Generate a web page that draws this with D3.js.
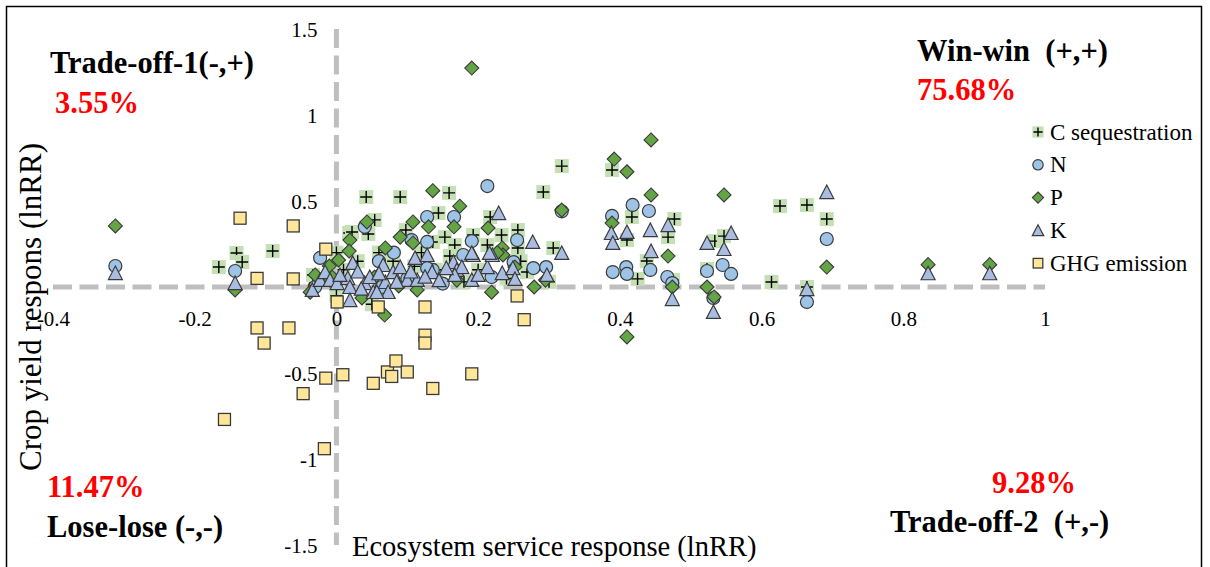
<!DOCTYPE html>
<html>
<head>
<meta charset="utf-8">
<script src="https://cdn.jsdelivr.net/npm/d3@7"></script>
<style>
  html, body { margin: 0; padding: 0; background: #ffffff; }
  svg { display: block; }
  svg text { font-family: "Liberation Serif", "Times New Roman", serif; }
</style>
</head>
<body>
<svg id="chart" width="1210" height="567"></svg>
<script>
// Ecosystem service response (x, lnRR) vs crop yield response (y, lnRR)
const seriesNames = ["C sequestration", "N", "P", "K", "GHG emission"];

const xTicks = [-0.4, -0.2, 0, 0.2, 0.4, 0.6, 0.8, 1];
const xTickLabels = ["-0.4", "-0.2", "0", "0.2", "0.4", "0.6", "0.8", "1"];
const yTicks = [1.5, 1, 0.5, 0, -0.5, -1, -1.5];
const yTickLabels = ["1.5", "1", "0.5", "0", "-0.5", "-1", "-1.5"];

const cSequestration = [
  [-0.166, 0.116], [-0.141, 0.198], [-0.133, 0.145], [-0.09, 0.209],
  [0.042, 0.523], [0.09, 0.523], [0.159, 0.547], [0.292, 0.552], [0.318, 0.703],
  [0.054, 0.39], [0.045, 0.308], [0.018, 0.314], [0.144, 0.43], [0.217, 0.407],
  [0.022, 0.32], [0.098, 0.331], [0.136, 0.262], [0.153, 0.29], [0.167, 0.244],
  [0.193, 0.302], [0.213, 0.244], [0.233, 0.302], [0.256, 0.331], [0.256, 0.227],
  [0.306, 0.227], [-0.033, 0.07], [0.389, 0.68], [0.417, 0.407], [0.477, 0.395],
  [0.41, 0.273], [0.468, 0.29], [0.438, 0.151], [0.425, 0.047], [0.475, 0.04],
  [0.534, 0.267], [0.547, 0.296], [0.523, 0.105], [0.626, 0.471], [0.664, 0.477],
  [0.692, 0.395], [0.614, 0.029], [0.269, 0.087], [0.0, 0.2], [0.01, 0.1],
  [0.03, 0.15], [0.06, 0.2], [0.08, 0.15], [0.11, 0.12], [0.14, 0.1], [0.16, 0.18],
  [0.2, 0.1], [0.24, 0.05], [0.18, 0.03], [0.3, 0.03], [0.0, -0.05], [0.05, -0.1],
  [0.12, 0.2], [0.26, 0.15], [0.664, 0.0]
];

const nutrientN = [
  [-0.312, 0.122], [-0.143, 0.093], [0.213, 0.587], [0.04, 0.35], [0.128, 0.407],
  [0.166, 0.407], [0.128, 0.262], [0.106, 0.273], [0.081, 0.2], [0.136, 0.099],
  [0.191, 0.267], [0.179, 0.186], [0.255, 0.273], [0.25, 0.145], [0.278, 0.11],
  [0.296, 0.116], [0.219, 0.058], [-0.03, 0.0], [0.318, 0.44], [0.389, 0.413],
  [0.418, 0.477], [0.39, 0.087], [0.409, 0.116], [0.41, 0.076], [0.441, 0.442],
  [0.443, 0.099], [0.467, 0.058], [0.474, 0.023], [0.523, 0.093], [0.545, 0.128],
  [0.557, 0.076], [0.532, -0.064], [0.692, 0.279], [0.664, -0.087],
  [-0.023, 0.169], [0.064, 0.0], [0.128, 0.11], [0.06, 0.15], [0.1, 0.05], [0.15, 0.02]
];

const nutrientP = [
  [-0.312, 0.355], [0.191, 1.273], [0.136, 0.56], [0.444, 0.855], [0.392, 0.744],
  [0.41, 0.67], [0.444, 0.535], [0.389, 0.372], [0.468, 0.18], [0.547, 0.535],
  [0.692, 0.116], [0.41, -0.29], [0.474, 0.0], [0.523, 0.0], [0.533, -0.058],
  [0.835, 0.13], [0.922, 0.13], [0.318, 0.447], [0.174, 0.47], [0.166, 0.35],
  [0.214, 0.343], [0.234, 0.227], [0.235, 0.186], [0.252, 0.116], [0.279, 0.0],
  [0.219, -0.03], [0.295, 0.04], [0.043, 0.378], [0.108, 0.378], [0.13, 0.35],
  [0.019, 0.273], [0.09, 0.29], [0.108, 0.256], [0.069, 0.227], [0.018, 0.209],
  [0.003, 0.157], [-0.01, 0.122], [0.036, -0.064], [0.068, -0.163], [-0.03, 0.07],
  [-0.009, 0.04], [-0.143, -0.017], [0.088, 0.006], [0.114, -0.017], [-0.037, -0.03],
  [-0.006, 0.058], [0.054, 0.058], [0.17, 0.04], [0.227, 0.2]
];

const nutrientK = [
  [-0.034, -0.017], [-0.023, 0.041], [-0.016, 0.087], [-0.009, 0.041], [0.001, 0.023],
  [0.016, 0.052], [0.019, 0.0], [0.023, 0.14], [0.04, 0.023], [0.047, 0.058],
  [0.052, -0.029], [0.066, 0.128], [0.069, 0.029], [0.073, -0.029], [0.08, 0.087],
  [0.09, 0.116], [0.1, 0.041], [0.111, 0.169], [0.114, 0.041], [0.128, 0.186],
  [0.135, 0.087], [0.165, 0.145], [0.17, 0.099], [0.177, 0.116], [0.191, 0.041],
  [0.193, 0.186], [0.213, 0.116], [0.22, 0.186], [0.234, 0.081], [0.249, 0.11],
  [0.277, 0.262], [0.297, 0.07], [0.318, 0.198], [0.229, 0.43], [0.019, -0.076],
  [0.057, -0.029], [0.167, 0.07], [0.191, 0.198], [0.216, 0.198], [0.252, 0.047],
  [-0.312, 0.081], [-0.143, 0.023], [0.388, 0.314], [0.39, 0.256], [0.41, 0.32],
  [0.443, 0.331], [0.444, 0.209], [0.468, 0.36], [0.474, -0.07], [0.523, 0.256],
  [0.547, 0.221], [0.557, 0.314], [0.532, -0.145], [0.664, -0.012], [0.692, 0.552],
  [0.835, 0.08], [0.922, 0.08],
  [0.005, 0.07], [0.03, 0.09], [0.06, 0.08], [0.085, 0.03], [0.105, 0.09],
  [0.145, 0.04], [0.155, 0.11], [0.2, 0.07], [0.125, 0.06], [0.035, -0.01]
];

const ghgEmission = [
  [-0.136, 0.4], [-0.061, 0.355], [-0.112, 0.05], [-0.061, 0.047], [-0.015, 0.22],
  [0.001, -0.087], [0.059, -0.116], [0.125, -0.116], [0.125, -0.28], [0.125, -0.326],
  [-0.112, -0.238], [-0.102, -0.326], [-0.067, -0.238], [-0.047, -0.62], [-0.158, -0.77],
  [-0.017, -0.94], [-0.015, -0.53], [0.009, -0.51], [0.052, -0.56], [0.072, -0.494],
  [0.084, -0.43], [0.078, -0.52], [0.1, -0.494], [0.136, -0.59], [0.191, -0.505],
  [0.255, -0.052], [0.265, -0.19]
];

const quadrantLabels = [
  { text: "Trade-off-1(-,+)", x: 50, y: 73, color: "#000000" },
  { text: "3.55%", x: 55, y: 113, color: "#ff0000" },
  { text: "Win-win  (+,+)", x: 917, y: 61, color: "#000000" },
  { text: "75.68%", x: 917, y: 100, color: "#ff0000" },
  { text: "11.47%", x: 47, y: 497, color: "#ff0000" },
  { text: "Lose-lose (-,-)", x: 47, y: 537, color: "#000000" },
  { text: "9.28%", x: 992, y: 493, color: "#ff0000" },
  { text: "Trade-off-2  (+,-)", x: 890, y: 532, color: "#000000" }
];

const serif = "'Liberation Serif', 'Times New Roman', serif";
const svg = d3.select("#chart");

// outer frame
svg.append("rect")
  .attr("x", 6.5).attr("y", 6.5).attr("width", 1195).attr("height", 620)
  .attr("fill", "#ffffff").attr("stroke", "#000000").attr("stroke-width", 1.5);

const x = d3.scaleLinear().domain([-0.4, 1]).range([53, 1045]);
const y = d3.scaleLinear().domain([-1.5, 1.5]).range([545, 29]);

// dashed zero lines act as the axes
const dashStyle = { stroke: "#bfbfbf", width: 5, dash: "19 7.5" };
svg.append("line")
  .attr("x1", x(-0.4)).attr("x2", x(1)).attr("y1", y(0)).attr("y2", y(0))
  .attr("stroke", dashStyle.stroke).attr("stroke-width", dashStyle.width)
  .attr("stroke-dasharray", dashStyle.dash);
svg.append("line")
  .attr("x1", x(0)).attr("x2", x(0)).attr("y1", y(1.5)).attr("y2", y(-1.5))
  .attr("stroke", dashStyle.stroke).attr("stroke-width", dashStyle.width)
  .attr("stroke-dasharray", dashStyle.dash);

// tick labels via d3 axes (lines hidden, only text kept)
const xAxis = d3.axisBottom(x).tickValues(xTicks)
  .tickFormat((d, i) => xTickLabels[i]).tickSize(0).tickPadding(0);
const gx = svg.append("g").attr("transform", `translate(0,${y(0)})`).call(xAxis);
gx.attr("font-family", null).attr("font-size", null);
gx.select(".domain").remove();
gx.selectAll("text").attr("dy", null).attr("y", 39)
  .style("font-family", serif).style("font-size", "21px").attr("fill", "#000000");

const yAxis = d3.axisLeft(y).tickValues(yTicks)
  .tickFormat((d, i) => yTickLabels[i]).tickSize(0).tickPadding(0);
const gy = svg.append("g").attr("transform", `translate(${x(0) - 19},0)`).call(yAxis);
gy.attr("font-family", null).attr("font-size", null);
gy.select(".domain").remove();
gy.selectAll("text").attr("x", 0).attr("dy", "0.34em")
  .style("font-family", serif).style("font-size", "21px").attr("fill", "#000000");

// axis titles
svg.append("text")
  .attr("x", 352).attr("y", 556)
  .style("font-family", serif).style("font-size", "28.5px").attr("fill", "#000000")
  .text("Ecosystem service response (lnRR)");
svg.append("text")
  .attr("transform", "translate(41,307) rotate(-90)")
  .attr("text-anchor", "middle")
  .style("font-family", serif).style("font-size", "31px").attr("fill", "#000000")
  .text("Crop yield respons (lnRR)");

// marker painters
const edge = "#3a3a3a";
function drawCSeq(g, s) {
  const h = s / 2;
  g.append("rect").attr("x", -h).attr("y", -h).attr("width", s).attr("height", s)
    .attr("fill", "#c5e0b4");
  g.append("path").attr("d", `M${-h + 1},0H${h - 1}M0,${-h + 1}V${h - 1}`)
    .attr("stroke", "#000000").attr("stroke-width", 1.4).attr("fill", "none");
}
function drawN(g, s) {
  g.append("circle").attr("r", s / 2)
    .attr("fill", "#9dc3e6").attr("stroke", edge).attr("stroke-width", 1.2);
}
function drawP(g, s) {
  const h = s / 2;
  g.append("path").attr("d", `M0,${-h}L${h},0L0,${h}L${-h},0Z`)
    .attr("fill", "#63a544").attr("stroke", edge).attr("stroke-width", 1.1);
}
function drawK(g, s) {
  const h = s / 2;
  g.append("path").attr("d", `M0,${-h - 0.5}L${h + 0.5},${h}L${-h - 0.5},${h}Z`)
    .attr("fill", "#a9bde3").attr("stroke", edge).attr("stroke-width", 1.2);
}
function drawGHG(g, s) {
  const h = s / 2;
  g.append("rect").attr("x", -h).attr("y", -h).attr("width", s).attr("height", s)
    .attr("fill", "#ffe699").attr("stroke", edge).attr("stroke-width", 1.3);
}

const series = [
  { name: seriesNames[0], data: cSequestration, draw: drawCSeq, size: 14 },
  { name: seriesNames[1], data: nutrientN, draw: drawN, size: 13 },
  { name: seriesNames[2], data: nutrientP, draw: drawP, size: 14 },
  { name: seriesNames[3], data: nutrientK, draw: drawK, size: 13 },
  { name: seriesNames[4], data: ghgEmission, draw: drawGHG, size: 12 }
];

const plot = svg.append("g");
series.forEach(sr => {
  const g = plot.append("g").attr("class", "series");
  g.selectAll("g.pt").data(sr.data).enter().append("g")
    .attr("class", "pt")
    .attr("transform", d => `translate(${x(d[0])},${y(d[1])})`)
    .each(function () { sr.draw(d3.select(this), sr.size); });
});

// legend
const legend = svg.append("g");
series.forEach((sr, i) => {
  const cy = 132 + i * 32.8;
  const m = legend.append("g").attr("transform", `translate(1038,${cy})`);
  sr.draw(m, sr.size * 0.8);
  legend.append("text").attr("x", 1050).attr("y", cy + 7.5)
    .style("font-family", serif).style("font-size", "23px")
    .attr("fill", "#000000").text(sr.name);
});

// quadrant annotations
svg.append("g").selectAll("text").data(quadrantLabels).enter().append("text")
  .attr("x", d => d.x).attr("y", d => d.y)
  .style("font-family", serif).style("font-size", "30.5px").style("font-weight", "bold")
  .attr("fill", d => d.color)
  .style("white-space", "pre")
  .text(d => d.text);
</script>
</body>
</html>
